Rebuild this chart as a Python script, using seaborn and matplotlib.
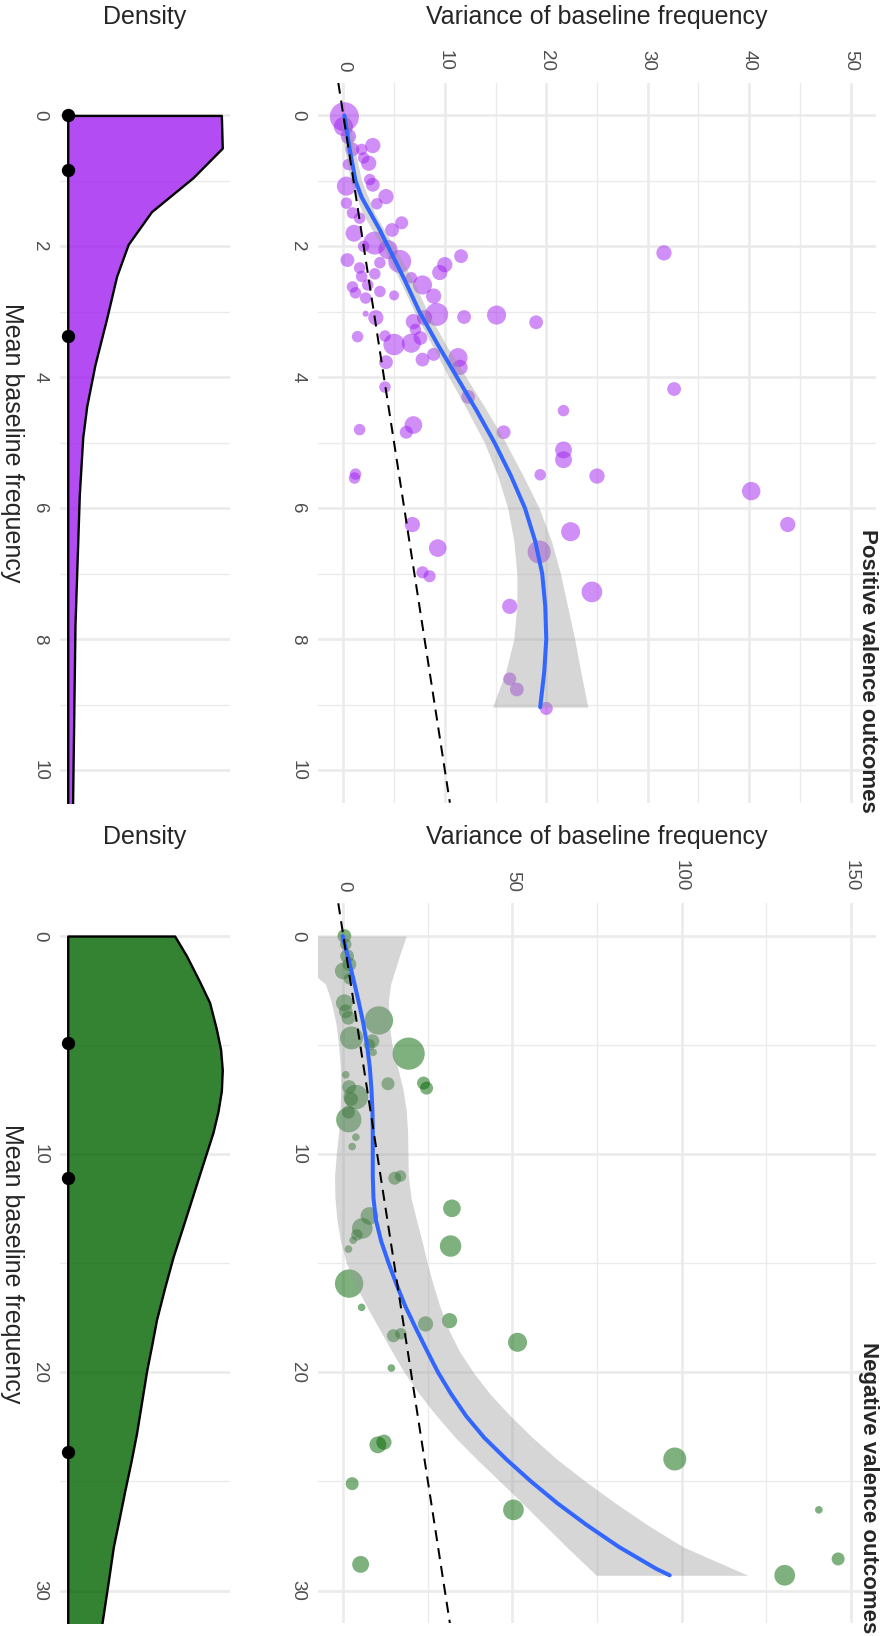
import numpy as np
import pandas as pd
import matplotlib
matplotlib.use("Agg")
import matplotlib.pyplot as plt
import seaborn as sns
from matplotlib.colors import to_rgba
from matplotlib.ticker import MultipleLocator

sns.set_style("white")
plt.rcParams["font.family"] = ["Liberation Sans", "DejaVu Sans"]

# ---- positive valence outcomes: variance vs mean, bubble size = n ----
pos_var = [0.1, 0.0, 0.5, 2.9, 0.9, 1.8, 2.5, 0.5, 2.0, 0.3, 2.9, 2.6, 4.2, 0.3, 3.3, 0.9,
           1.6, 5.75, 4.8, 1.05, 3.1, 4.4, 5.55, 2.0, 0.4, 11.6, 31.6, 10.0, 9.5, 3.6, 1.6,
           1.8, 3.1, 2.4, 0.9, 1.2, 6.7, 7.8, 3.6, 5.0, 2.2, 8.9, 2.2, 3.2, 9.2, 11.9, 15.1,
           19.0, 6.9, 8.0, 1.4, 4.1, 5.0, 6.7, 7.6, 7.1, 7.8, 8.9, 11.3, 4.2, 11.5, 4.1,
           32.6, 12.3, 21.7, 6.9, 6.2, 1.6, 15.8, 21.7, 21.7, 19.4, 25.0, 1.2, 1.1, 40.2,
           43.8, 6.8, 22.4, 9.3, 19.3, 7.8, 8.5, 24.5, 16.4, 16.4, 17.1, 20.0]
pos_mean = [0.02, 0.17, 0.32, 0.46, 0.52, 0.52, 0.73, 0.75, 0.65, 1.08, 1.06, 0.98, 1.24, 1.34,
            1.35, 1.49, 1.57, 1.64, 1.75, 1.80, 1.95, 2.05, 2.23, 2.00, 2.21, 2.15, 2.10, 2.28,
            2.40, 2.25, 2.33, 2.46, 2.42, 2.59, 2.62, 2.71, 2.48, 2.59, 2.69, 2.75, 2.79, 2.76,
            3.03, 3.09, 3.04, 3.08, 3.05, 3.16, 3.15, 3.09, 3.38, 3.37, 3.50, 3.48, 3.40, 3.27,
            3.73, 3.65, 3.70, 3.77, 3.85, 4.15, 4.18, 4.30, 4.51, 4.73, 4.84, 4.80, 4.84, 5.11,
            5.26, 5.49, 5.51, 5.48, 5.54, 5.74, 6.25, 6.25, 6.36, 6.61, 6.67, 6.98, 7.04, 7.28,
            7.50, 8.61, 8.77, 9.06]
pos_n = [160, 69, 44, 44, 36, 25, 44, 25, 25, 69, 36, 25, 44, 25, 25, 25, 25, 32, 36, 54, 100,
         69, 100, 25, 36, 36, 44, 44, 44, 25, 25, 25, 25, 25, 25, 25, 25, 69, 25, 19, 25, 44, 7,
         44, 100, 36, 69, 36, 44, 44, 25, 25, 87, 69, 36, 25, 36, 32, 69, 36, 44, 25, 36, 36,
         25, 59, 32, 25, 36, 54, 54, 25, 44, 25, 25, 64, 44, 44, 69, 59, 100, 28, 28, 81, 44,
         32, 36, 32]

# loess fit and its band
pos_fit_mean = [0.0, 0.25, 0.5, 0.75, 1.0, 1.25, 1.5, 1.75, 2.0, 2.5, 3.0, 3.5, 4.0, 4.5, 5.0,
                5.5, 6.0, 6.5, 7.0, 7.5, 8.0, 8.5, 9.04]
pos_fit_var = [0.1, 0.35, 0.6, 0.9, 1.2, 1.8, 2.7, 3.6, 4.4, 6.0, 7.5, 9.3, 11.2, 13.1, 14.9,
               16.5, 17.9, 18.9, 19.6, 19.9, 20.0, 19.8, 19.4]
pos_ci_mean = [0.0, 0.5, 1.0, 1.5, 2.0, 2.5, 3.0, 3.5, 4.0, 4.5, 5.0, 5.5, 6.0, 6.5, 7.0, 7.5,
               8.0, 8.5, 9.04]
pos_ci_lo = [-0.3, 0.1, 0.7, 1.9, 3.8, 5.5, 7.0, 8.7, 10.4, 12.2, 13.9, 15.2, 16.2, 16.8, 17.1,
             17.1, 16.8, 16.0, 14.7]
pos_ci_hi = [0.5, 1.1, 1.8, 3.1, 5.0, 6.8, 8.3, 10.1, 12.1, 14.1, 16.0, 17.7, 19.3, 20.5, 21.4,
             22.1, 22.8, 23.4, 24.1]

# density of the mean (scaled to its maximum)
pos_dens_mean = [0.0, 0.5, 0.95, 1.47, 1.97, 2.46, 3.1, 3.81, 4.44, 4.92, 5.79, 7.78, 10.4, 10.6]
pos_dens = [0.994, 1.0, 0.811, 0.542, 0.391, 0.316, 0.252, 0.176, 0.123, 0.097, 0.075, 0.047,
            0.032, 0.031]
pos_marks = [0.0, 0.83, 3.37]

# ---- negative valence outcomes ----
neg_var = [0.3, 0.7, 1.1, 1.8, 0.0, 1.8, 0.3, 0.7, 1.5, 10.5, 2.4, 8.6, 7.7, 8.8, 19.3, 0.7,
           23.7, 24.6, 13.2, 1.7, 3.7, 2.3, 1.5, 1.6, 3.7, 2.6, 15.2, 16.9, 32.1, 31.7, 7.7,
           5.6, 4.0, 2.9, 1.5, 1.7, 5.4, 24.3, 31.4, 14.8, 17.0, 51.5, 14.2, 10.2, 12.0, 98.0,
           2.6, 50.3, 140.6, 146.3, 5.1, 130.5]
neg_mean = [0.0, 0.38, 0.92, 1.30, 1.60, 1.96, 3.06, 3.45, 3.75, 3.87, 4.67, 4.82, 4.98, 5.33,
            5.39, 6.36, 6.74, 6.97, 6.77, 6.92, 7.38, 7.47, 8.07, 8.42, 9.22, 9.65, 11.10, 11.00,
            12.48, 14.21, 12.83, 13.40, 13.70, 13.94, 14.35, 15.93, 17.02, 17.78, 17.63, 18.32,
            18.23, 18.62, 19.80, 23.32, 23.20, 23.97, 25.10, 26.30, 26.30, 28.55, 28.80, 29.30]
neg_n = [36, 25, 36, 36, 54, 25, 54, 36, 36, 152, 100, 36, 25, 11, 196, 11, 32, 32, 32, 36, 114,
         36, 32, 121, 11, 11, 32, 25, 59, 87, 59, 81, 25, 11, 11, 152, 11, 44, 44, 32, 25, 69,
         11, 54, 44, 100, 32, 81, 11, 32, 54, 81]

neg_fit_mean = [0, 1, 2, 3, 4, 5, 6, 7, 8, 9, 10, 11, 12, 13, 14, 15, 16, 17, 18, 19, 20, 21,
                22, 23, 24, 25, 26, 27, 28, 29, 29.3]
neg_fit_var = [-0.2, 1.4, 3.0, 4.5, 5.9, 7.0, 7.8, 8.3, 8.6, 8.7, 8.7, 8.7, 8.9, 9.6, 11.2, 13.4,
               15.8, 18.4, 21.5, 24.7, 28.0, 31.9, 36.3, 41.7, 48.3, 55.5, 63.3, 72.0, 81.5,
               92.5, 96.5]
neg_ci_mean = [0.0, 0.8, 1.6, 2.2, 3.0, 4.0, 5.0, 6.0, 7.0, 8.0, 9.0, 10.0, 11.0, 12.0, 13.0,
               14.0, 15.0, 16.0, 17.0, 18.0, 19.0, 20.0, 21.0, 22.0, 23.0, 24.0, 25.0, 26.0,
               27.0, 28.0, 29.3]
neg_ci_lo = [-15.0, -13.5, -10.0, -5.3, -3.6, -2.2, -1.4, -0.9, -0.8, -1.0, -1.4, -2.1, -2.6,
             -2.5, -1.9, -0.8, 0.9, 3.6, 7.0, 10.6, 14.2, 18.0, 22.5, 27.6, 33.2, 39.6, 46.3,
             53.0, 59.5, 66.0, 74.8]
neg_ci_hi = [18.6, 16.8, 15.2, 14.0, 13.3, 13.5, 14.4, 16.0, 17.6, 18.6, 19.0, 19.1, 19.2, 20.0,
             21.6, 23.3, 24.8, 26.6, 28.6, 31.0, 34.2, 38.4, 43.4, 49.4, 56.0, 63.3, 71.6, 80.5,
             90.0, 100.5, 119.6]

neg_dens_mean = [0.0, 0.9, 2.1, 3.05, 4.24, 5.19, 6.14, 7.1, 8.05, 9.0, 9.95, 10.9, 12.1, 13.3,
                 14.7, 16.1, 17.6, 18.8, 19.95, 21.4, 22.8, 24.1, 25.4, 26.7, 28.0, 29.6, 31.1,
                 31.8]
neg_dens = [0.692, 0.768, 0.854, 0.918, 0.961, 0.989, 1.0, 0.994, 0.972, 0.940, 0.897, 0.854,
            0.8, 0.746, 0.682, 0.628, 0.574, 0.542, 0.51, 0.477, 0.445, 0.409, 0.37, 0.333,
            0.295, 0.262, 0.23, 0.215]
neg_marks = [4.9, 11.07, 23.64]

all_n = pos_n + neg_n
N_LO, N_HI = min(all_n), max(all_n)

W, H = 882, 1636
GRID = "#EBEBEB"
TICK_COL = "#4D4D4D"


def px_box(x0, x1, y0, y1):
    return [x0 / W, 1 - y1 / H, (x1 - x0) / W, (y1 - y0) / H]


def style_axes(ax, ymax, ystep):
    for s in ax.spines.values():
        s.set_visible(False)
    ax.set_ylim(ymax * 1.05, -ymax * 0.05)
    ax.yaxis.set_major_locator(MultipleLocator(ystep))
    ax.yaxis.set_minor_locator(MultipleLocator(ystep / 2))
    ax.grid(which="major", axis="y", color=GRID, lw=1.9)
    ax.grid(which="minor", axis="y", color=GRID, lw=1.0)
    ax.set_axisbelow(True)
    ax.tick_params(axis="y", which="both", length=0, pad=8.5, labelsize=13.5,
                   labelcolor=TICK_COL, labelrotation=270)
    for lab in ax.get_yticklabels():
        lab.set_va("center")
    ax.set_xlabel("")
    ax.set_ylabel("")


def draw_scatter(ax, var, mean, n, colour, fm, fv, cm, clo, chi, xmax, xstep, ymax, ystep):
    df = pd.DataFrame({"var": var, "mean": mean, "n": n})
    sns.scatterplot(data=df, x="var", y="mean", size="n", sizes=(2.74 * N_LO, 2.74 * N_HI),
                    size_norm=(N_LO, N_HI), color=colour, alpha=0.5, linewidth=0,
                    legend=False, ax=ax)
    ax.fill_betweenx(cm, clo, chi, color="#999999", alpha=0.4, lw=0)
    sns.lineplot(x=fv, y=fm, sort=False, estimator=None, color="#3366FF", linewidth=2.9, ax=ax)
    ax.axline((0, 0), slope=1, color="black", lw=1.45, ls=(0, (5.5, 3.5)), zorder=3)
    ax.set_xlim(-xmax * 0.05, xmax * 1.05)
    ax.xaxis.set_major_locator(MultipleLocator(xstep))
    ax.xaxis.set_minor_locator(MultipleLocator(xstep / 2))
    ax.grid(which="major", axis="x", color=GRID, lw=1.9)
    ax.grid(which="minor", axis="x", color=GRID, lw=1.0)
    ax.xaxis.tick_top()
    ax.tick_params(axis="x", which="both", length=0, pad=8.3, labelsize=13.5,
                   labelcolor=TICK_COL, labelrotation=270, labeltop=True, labelbottom=False)
    style_axes(ax, ymax, ystep)


def draw_density(ax, dm, dv, marks, colour, ymax, ystep):
    ax.fill_betweenx(dm, 0, dv, facecolor=to_rgba(colour, 0.8), edgecolor="black", lw=1.7)
    sns.scatterplot(x=np.zeros(len(marks)), y=marks, color="black", s=92, linewidth=0,
                    ax=ax, zorder=4, clip_on=False)
    ax.set_xlim(-0.05, 1.05)
    ax.set_xticks([])
    style_axes(ax, ymax, ystep)


fig = plt.figure(figsize=(W / 100, H / 100), dpi=100)

rows = [
    (82.7, 802.7, "Positive valence outcomes", "#A020F0",
     (pos_var, pos_mean, pos_n, pos_fit_mean, pos_fit_var, pos_ci_mean, pos_ci_lo, pos_ci_hi),
     (pos_dens_mean, pos_dens, pos_marks), 50, 10, 10, 2),
    (903.3, 1623.3, "Negative valence outcomes", "#006400",
     (neg_var, neg_mean, neg_n, neg_fit_mean, neg_fit_var, neg_ci_mean, neg_ci_lo, neg_ci_hi),
     (neg_dens_mean, neg_dens, neg_marks), 150, 50, 30, 10),
]

for y0, y1, title, colour, sc, de, xmax, xstep, ymax, ystep in rows:
    ax_d = fig.add_axes(px_box(60, 230, y0, y1))
    draw_density(ax_d, de[0], de[1], de[2], colour, ymax, ystep)
    ax_s = fig.add_axes(px_box(318, 876, y0, y1))
    draw_scatter(ax_s, *sc[:3], colour, *sc[3:], xmax, xstep, ymax, ystep)

    label_y = 1 - (y0 - 66) / H
    fig.text(145 / W, label_y, "Density", ha="center", va="center", fontsize=18)
    fig.text(597 / W, label_y, "Variance of baseline frequency", ha="center", va="center",
             fontsize=18)
    fig.text(12 / W, 1 - ((y0 + y1) / 2) / H, "Mean baseline frequency", rotation=270,
             ha="center", va="center", fontsize=18)
    fig.text(868 / W, 1 - (y1 + 10.3) / H, title, rotation=270, ha="center", va="bottom",
             fontsize=16, fontweight="bold")

fig.savefig("out.png", dpi=100)
